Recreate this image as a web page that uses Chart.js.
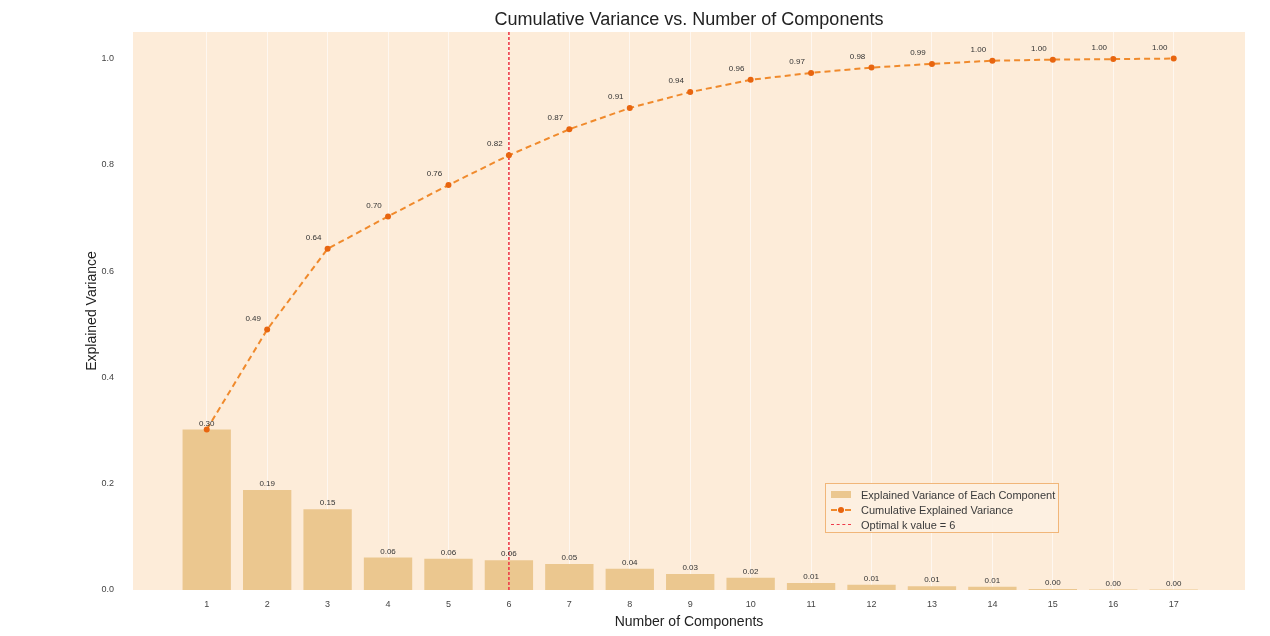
<!DOCTYPE html>
<html>
<head>
<meta charset="utf-8">
<script src="https://cdn.jsdelivr.net/npm/chart.js@4/dist/chart.umd.min.js"></script>
<style>
  html, body { margin: 0; padding: 0; background: #fff; }
  #wrap { position: relative; width: 1270px; height: 636px; }
  #legend {
    position: absolute; left: 825px; top: 483px; width: 234px; height: 50px;
    border: 1px solid #f1b679; background: rgba(253, 240, 226, 0.92);
    font: 11px "Liberation Sans", Arial, sans-serif; color: #3a3a3a;
    padding: 3px 0 0 0; box-sizing: border-box; white-space: nowrap;
  }
  .item { display: flex; align-items: center; height: 15px; }
  .sw { width: 20px; margin: 0 10px 0 5px; position: relative; height: 10px; flex: none; }
</style>
</head>
<body>
<div id="wrap">
  <canvas id="pca" width="1270" height="636"></canvas>
  <div id="legend"></div>
</div>
<script>
const components = [1, 2, 3, 4, 5, 6, 7, 8, 9, 10, 11, 12, 13, 14, 15, 16, 17];
const explained = [0.302, 0.188, 0.152, 0.061, 0.059, 0.056, 0.049, 0.040, 0.030, 0.023, 0.013, 0.010, 0.007, 0.006, 0.002, 0.001, 0.001];
const cumulative = [0.302, 0.490, 0.642, 0.703, 0.762, 0.818, 0.867, 0.907, 0.937, 0.960, 0.973, 0.983, 0.990, 0.996, 0.998, 0.999, 1.000];
const optimalK = 6;
const yTicks = [0, 0.2, 0.4, 0.6, 0.8, 1.0];

const FONT = '"Liberation Sans", Arial, sans-serif';

// peach background behind the plot area
const plotBg = {
  id: "plotBg",
  beforeDraw(chart) {
    const { ctx, chartArea: a } = chart;
    ctx.save();
    ctx.fillStyle = "#fdecd9";
    ctx.fillRect(a.left, a.top, a.right - a.left, a.bottom - a.top);
    ctx.restore();
  },
};

// value labels above bars and cumulative points, title and x axis title
const valueLabels = {
  id: "valueLabels",
  afterDatasetsDraw(chart) {
    const { ctx, chartArea: a } = chart;
    const cx = (a.left + a.right) / 2;
    ctx.save();
    ctx.font = "8px " + FONT;
    ctx.fillStyle = "#333";
    ctx.textAlign = "center";
    ctx.textBaseline = "bottom";
    chart.getDatasetMeta(0).data.forEach((el, i) => {
      ctx.fillText(explained[i].toFixed(2), el.x, el.y - 2);
    });
    chart.getDatasetMeta(1).data.forEach((el, i) => {
      if (i === 0) return; // sits on top of the first bar label
      ctx.fillText(cumulative[i].toFixed(2), el.x - 14, el.y - 7);
    });
    ctx.textBaseline = "middle";
    ctx.fillStyle = "#222";
    ctx.font = "14px " + FONT;
    ctx.fillText("Number of Components", cx, 622);
    ctx.font = "18px " + FONT;
    ctx.fillText("Cumulative Variance vs. Number of Components", cx, 20);
    ctx.restore();
  },
};

const chart = new Chart(document.getElementById("pca"), {
  type: "bar",
  data: {
    datasets: [
      {
        type: "bar",
        label: "Explained Variance of Each Component",
        data: components.map((c, i) => ({ x: c, y: explained[i] })),
        backgroundColor: "#ebc78f",
        categoryPercentage: 1.0,
        barPercentage: 0.8,
        order: 3,
      },
      {
        type: "line",
        label: "Cumulative Explained Variance",
        data: components.map((c, i) => ({ x: c, y: cumulative[i] })),
        borderColor: "#f08a2c",
        borderWidth: 2,
        borderDash: [6, 4],
        pointRadius: 3,
        pointBackgroundColor: "#e8650f",
        pointBorderWidth: 0,
        tension: 0,
        order: 1,
      },
      {
        type: "line",
        label: "Optimal k value = " + optimalK,
        data: [{ x: optimalK, y: 0 }, { x: optimalK, y: 1.05 }],
        borderColor: "#ee3b4a",
        borderWidth: 1.6,
        borderDash: [3, 2],
        pointRadius: 0,
        order: 2,
      },
    ],
  },
  options: {
    responsive: false,
    animation: false,
    layout: { padding: { left: 0, right: 25, top: 32, bottom: 0 } },
    plugins: {
      legend: { display: false },
      tooltip: { enabled: false },
      title: { display: false },
    },
    scales: {
      x: {
        type: "linear",
        offset: false,
        min: -0.22,
        max: 18.18,
        afterBuildTicks: (s) => { s.ticks = components.map((v) => ({ value: v })); },
        afterFit: (s) => { s.height = 46; },
        ticks: { font: { family: FONT, size: 9 }, color: "#444", padding: 9, callback: (v) => v },
        grid: { offset: false, color: "rgba(255,255,255,0.6)", lineWidth: 1, drawTicks: false },
        border: { display: false },
      },
      y: {
        min: 0,
        max: 1.05,
        afterBuildTicks: (s) => { s.ticks = yTicks.map((v) => ({ value: v })); },
        afterFit: (s) => { s.width = 133; },
        ticks: { font: { family: FONT, size: 9 }, color: "#444", padding: 19, callback: (v) => v.toFixed(1) },
        grid: { display: false, drawTicks: false },
        border: { display: false },
        title: {
          display: true,
          text: "Explained Variance",
          font: { family: FONT, size: 14 },
          color: "#222",
          padding: { top: 84, bottom: 0 },
        },
      },
    },
  },
  plugins: [plotBg, valueLabels],
});

// html legend built from the datasets
const legendEl = document.getElementById("legend");
chart.data.datasets.forEach((ds, i) => {
  const row = document.createElement("div");
  row.className = "item";
  let sw;
  if (i === 0) {
    sw = `<span class="sw" style="background:${ds.backgroundColor};height:7px"></span>`;
  } else if (i === 1) {
    sw = `<span class="sw"><span style="position:absolute;left:0;right:0;top:4px;border-top:2px dashed ${ds.borderColor}"></span><span style="position:absolute;left:7px;top:2px;width:6px;height:6px;border-radius:3px;background:${ds.pointBackgroundColor}"></span></span>`;
  } else {
    sw = `<span class="sw"><span style="position:absolute;left:0;right:0;top:4px;border-top:1.5px dashed ${ds.borderColor}"></span></span>`;
  }
  row.innerHTML = sw + `<span>${ds.label}</span>`;
  legendEl.appendChild(row);
});
</script>
</body>
</html>
